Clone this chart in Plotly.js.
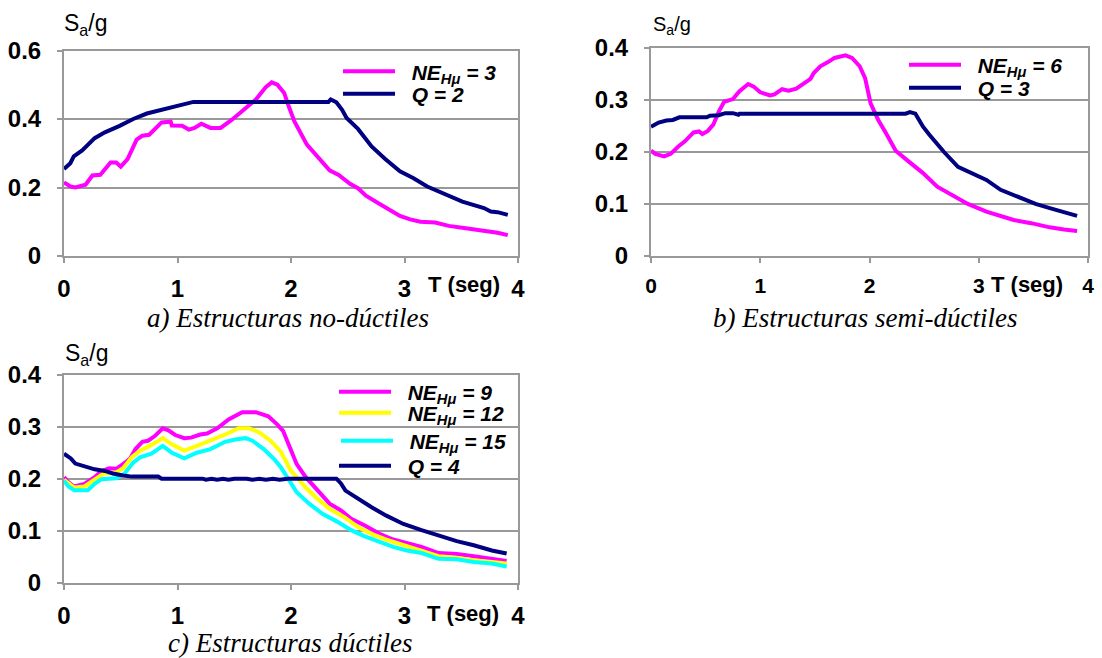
<!DOCTYPE html>
<html>
<head>
<meta charset="utf-8">
<script src="https://cdn.plot.ly/plotly-3.0.1.min.js"></script>
<style>html,body{margin:0;padding:0;background:#fff}#chart{width:1102px;height:658px}</style>
</head>
<body>
<div id="chart"></div>
<script>
// ---------- Data (T in seconds, Sa/g) ----------
// a) Estructuras no-dúctiles
const T_a_ne3 = [0,0.056,0.1,0.19,0.25,0.32,0.41,0.46,0.5,0.56,0.64,0.69,0.75,0.86,0.94,0.95,1.04,1.1,1.15,1.21,1.29,1.38,1.48,1.57,1.69,1.78,1.83,1.88,1.94,1.98,2.03,2.14,2.25,2.34,2.42,2.52,2.59,2.66,2.77,2.86,2.96,3.05,3.14,3.27,3.39,3.54,3.7,3.82,3.91];
const Sa_a_ne3 = [0.215,0.203,0.2,0.208,0.235,0.237,0.273,0.273,0.261,0.283,0.34,0.351,0.354,0.39,0.392,0.381,0.38,0.369,0.374,0.386,0.374,0.374,0.398,0.422,0.457,0.494,0.507,0.5,0.476,0.437,0.393,0.325,0.286,0.25,0.237,0.211,0.198,0.176,0.154,0.138,0.117,0.107,0.1,0.098,0.088,0.081,0.074,0.068,0.061];
const T_a_q2 = [0,0.056,0.086,0.16,0.27,0.36,0.49,0.61,0.73,0.89,1.01,1.14,2.33,2.35,2.4,2.45,2.49,2.59,2.71,2.83,2.96,3.08,3.2,3.36,3.51,3.7,3.76,3.82,3.91];
const Sa_a_q2 = [0.254,0.271,0.291,0.308,0.344,0.361,0.38,0.4,0.416,0.429,0.439,0.45,0.45,0.457,0.449,0.427,0.403,0.371,0.32,0.283,0.247,0.227,0.203,0.179,0.159,0.14,0.13,0.128,0.12];

// b) Estructuras semi-dúctiles
const T_b_ne6 = [0,0.04,0.12,0.18,0.25,0.31,0.39,0.44,0.47,0.52,0.57,0.62,0.67,0.75,0.81,0.89,0.94,1.0,1.09,1.13,1.2,1.26,1.33,1.39,1.46,1.49,1.55,1.62,1.68,1.78,1.84,1.91,1.96,2.01,2.08,2.15,2.24,2.36,2.49,2.62,2.78,2.9,3.07,3.2,3.32,3.48,3.65,3.78,3.9];
const Sa_b_ne6 = [0.202,0.196,0.191,0.196,0.21,0.22,0.237,0.239,0.234,0.24,0.252,0.277,0.296,0.301,0.316,0.33,0.325,0.314,0.308,0.31,0.32,0.317,0.321,0.33,0.34,0.351,0.364,0.372,0.38,0.385,0.38,0.364,0.341,0.293,0.261,0.236,0.202,0.181,0.159,0.133,0.114,0.1,0.085,0.076,0.069,0.063,0.055,0.051,0.048];
const T_b_q3 = [0,0.07,0.14,0.2,0.26,0.36,0.51,0.54,0.62,0.68,0.75,0.8,0.81,2.33,2.37,2.42,2.49,2.55,2.68,2.81,2.9,3.07,3.2,3.32,3.52,3.65,3.78,3.9];
const Sa_b_q3 = [0.248,0.256,0.26,0.261,0.266,0.266,0.266,0.269,0.27,0.274,0.274,0.271,0.273,0.273,0.276,0.273,0.248,0.232,0.2,0.171,0.162,0.146,0.127,0.117,0.1,0.092,0.085,0.077];

// c) Estructuras dúctiles
const T_c_ne9 = [0,0.04,0.09,0.18,0.27,0.33,0.4,0.46,0.52,0.58,0.63,0.69,0.74,0.8,0.87,0.92,0.98,1.06,1.12,1.2,1.26,1.35,1.45,1.57,1.69,1.8,1.88,1.93,1.99,2.05,2.13,2.22,2.34,2.44,2.53,2.65,2.78,2.9,3.02,3.15,3.3,3.46,3.61,3.77,3.9];
const Sa_c_ne9 = [0.203,0.193,0.185,0.19,0.203,0.215,0.22,0.219,0.228,0.238,0.257,0.271,0.273,0.282,0.297,0.293,0.284,0.278,0.279,0.285,0.287,0.297,0.314,0.328,0.328,0.32,0.304,0.292,0.26,0.228,0.203,0.18,0.152,0.139,0.123,0.11,0.094,0.083,0.076,0.069,0.057,0.055,0.051,0.046,0.042];
const T_c_ne12 = [0,0.04,0.09,0.18,0.27,0.35,0.46,0.52,0.6,0.67,0.77,0.87,0.95,1.06,1.17,1.29,1.42,1.54,1.63,1.72,1.82,1.91,2.0,2.13,2.22,2.34,2.47,2.59,2.72,2.84,2.99,3.15,3.3,3.46,3.61,3.77,3.9];
const Sa_c_ne12 = [0.198,0.191,0.183,0.185,0.199,0.21,0.212,0.22,0.242,0.254,0.265,0.278,0.266,0.254,0.263,0.273,0.285,0.297,0.297,0.289,0.273,0.252,0.215,0.183,0.164,0.142,0.126,0.107,0.093,0.083,0.072,0.062,0.051,0.048,0.043,0.04,0.037];
const T_c_ne15 = [0,0.04,0.09,0.21,0.27,0.33,0.46,0.53,0.61,0.67,0.77,0.87,0.95,1.06,1.17,1.29,1.42,1.52,1.6,1.66,1.76,1.85,1.91,1.99,2.05,2.16,2.28,2.41,2.53,2.65,2.78,2.9,3.02,3.15,3.3,3.46,3.61,3.77,3.9];
const Sa_c_ne15 = [0.196,0.185,0.178,0.178,0.19,0.199,0.201,0.209,0.231,0.241,0.248,0.263,0.25,0.239,0.25,0.257,0.271,0.276,0.278,0.273,0.257,0.238,0.222,0.193,0.174,0.152,0.132,0.117,0.101,0.089,0.078,0.069,0.062,0.057,0.046,0.045,0.04,0.037,0.031];
const T_c_q4 = [0,0.06,0.1,0.18,0.27,0.36,0.43,0.52,0.6,0.83,0.86,1.22,1.25,1.3,1.35,1.4,1.45,1.5,1.54,1.61,1.66,1.72,1.78,1.84,1.9,1.97,2.4,2.44,2.48,2.59,2.71,2.84,2.99,3.15,3.3,3.46,3.61,3.77,3.9];
const Sa_c_q4 = [0.248,0.239,0.229,0.223,0.218,0.215,0.21,0.206,0.204,0.204,0.2,0.2,0.198,0.2,0.198,0.2,0.198,0.2,0.2,0.2,0.198,0.2,0.198,0.2,0.198,0.2,0.2,0.191,0.177,0.161,0.145,0.129,0.113,0.101,0.09,0.08,0.072,0.062,0.056];

// ---------- Labels ----------
const xTickVals = [0,1,2,3,4];
const xTickText = ['0','1','2','3','4'];
const yTitle = 'S<sub>a</sub>/g';
const xTitle = 'T (seg)';
const captions = ['a) Estructuras no-dúctiles','b) Estructuras semi-dúctiles','c) Estructuras dúctiles'];
const names = {ne3:'NE<sub>Hμ</sub> = 3', q2:'Q = 2', ne6:'NE<sub>Hμ</sub> = 6', q3:'Q = 3', ne9:'NE<sub>Hμ</sub> = 9', ne12:'NE<sub>Hμ</sub> = 12', ne15:'NE<sub>Hμ</sub> = 15', q4:'Q = 4'};

const MAG='#FF00FF', NAVY='#000080', YEL='#FFFF00', CYAN='#00FFFF';
const LW = 4;
const PAD = '\u00A0\u00A0';
function tr(x,y,name,color,xa,ya,leg){
  return {x:x,y:y,name:PAD+name,type:'scatter',mode:'lines',line:{color:color,width:LW},xaxis:xa,yaxis:ya,legend:leg,hoverinfo:'skip'};
}
const data = [
  tr(T_a_ne3,Sa_a_ne3,names.ne3,MAG,'x','y','legend'),
  tr(T_a_q2,Sa_a_q2,names.q2,NAVY,'x','y','legend2'),
  tr(T_b_ne6,Sa_b_ne6,names.ne6,MAG,'x2','y2','legend3'),
  tr(T_b_q3,Sa_b_q3,names.q3,NAVY,'x2','y2','legend4'),
  tr(T_c_ne9,Sa_c_ne9,names.ne9,MAG,'x3','y3','legend5'),
  tr(T_c_ne12,Sa_c_ne12,names.ne12,YEL,'x3','y3','legend6'),
  tr(T_c_ne15,Sa_c_ne15,names.ne15,CYAN,'x3','y3','legend7'),
  tr(T_c_q4,Sa_c_q4,names.q4,NAVY,'x3','y3','legend8')
];

const W=1102,H=658;
const GRAY='#999999';
const FAM='Liberation Sans, Arial, sans-serif';
function bf(s){return {family:FAM,size:s,weight:'bold',color:'#000'};}
function xax(l,r,anchor,fs){
  return {domain:[l/W,r/W],anchor:anchor,range:[0,4],tickvals:xTickVals,ticktext:xTickText,showgrid:false,zeroline:false,
    showline:true,mirror:true,linecolor:GRAY,linewidth:2,ticks:'outside',ticklen:5,tickwidth:2,tickcolor:GRAY,
    tickfont:bf(fs),ticklabelstandoff:5,fixedrange:true};
}
function yax(t,b,anchor,max,dt,fs){
  return {domain:[1-b/H,1-t/H],anchor:anchor,range:[0,max],dtick:dt,tick0:0,showgrid:true,gridcolor:GRAY,gridwidth:2,zeroline:false,
    showline:true,mirror:true,linecolor:GRAY,linewidth:2,ticks:'outside',ticklen:5,tickwidth:2,tickcolor:GRAY,
    tickfont:bf(fs),ticklabelstandoff:11,fixedrange:true};
}
const legFont={family:FAM,size:21,weight:'bold',style:'italic',color:'#000'};
function leg(x,y){return {x:x/W,y:1-y/H,xanchor:'left',yanchor:'middle',xref:'paper',yref:'paper',bgcolor:'rgba(0,0,0,0)',borderwidth:0,font:legFont,itemwidth:52};}

function rf(s){return {family:FAM,size:s,color:'#000'};}
const capFont={family:'Liberation Serif, Times New Roman, serif',size:27,style:'italic',color:'#000'};
function ann(text,x,y,font,xanchor,yanchor){return {text:text,x:x/W,y:1-y/H,xref:'paper',yref:'paper',showarrow:false,font:font,xanchor:xanchor||'left',yanchor:yanchor||'middle'};}

const layout = {
  width:W,height:H,margin:{l:0,r:0,t:0,b:0},paper_bgcolor:'#fff',plot_bgcolor:'#fff',
  showlegend:true,
  xaxis:xax(64,518,'y',24), yaxis:yax(50.5,256,'x',0.6,0.2,24),
  xaxis2:xax(651,1088,'y2',21), yaxis2:yax(47.5,256,'x2',0.4,0.1,24),
  xaxis3:xax(64,518,'y3',24), yaxis3:yax(374.7,582.7,'x3',0.4,0.1,24),
  legend:leg(338,71.7), legend2:leg(338,94),
  legend3:leg(904,65), legend4:leg(904,88),
  legend5:leg(334,392), legend6:leg(334,413), legend7:leg(336,441), legend8:leg(334,466),
  annotations:[
    ann(yTitle,62,24,rf(23)), ann(yTitle,651,26,rf(20)), ann(yTitle,63,354,rf(23)),
    ann(xTitle,426,285,bf(22)),
    ann(xTitle,989,285,bf(22)),
    ann(xTitle,425,613,bf(22)),
    ann(captions[0],288,318,capFont,'center','middle'),
    ann(captions[1],865,318,capFont,'center','middle'),
    ann(captions[2],290,643,capFont,'center','middle')
  ]
};
Plotly.newPlot('chart',data,layout,{staticPlot:true,displayModeBar:false});
</script>
</body>
</html>
